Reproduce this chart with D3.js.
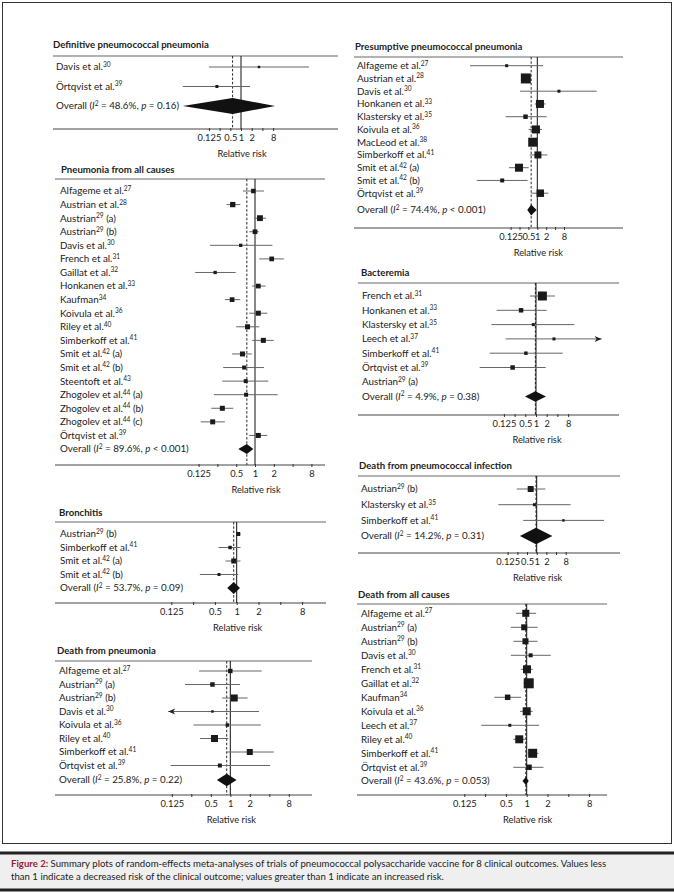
<!DOCTYPE html>
<html>
<head>
<meta charset="utf-8">
<script src="https://cdn.jsdelivr.net/npm/d3@7"></script>
<style>
  body { margin: 0; background: #fff; }
  text { font-family: Lato, "Liberation Sans", sans-serif; fill: #222; }
</style>
</head>
<body>
<svg id="fig"></svg>
<script>
// Dimensions de la figure
const width = 674,
  height = 893;

// Graduations communes
const tickValues = [0.125, 0.25, 0.5, 1, 2, 4, 8];
const tickLabels = ["0.125", "", "0.5", "1", "2", "", "8"];

// Definitive pneumococcal pneumonia
const defLabels = [["Davis et al.", "30", ""], ["Örtqvist et al.", "39", ""]];
const defRR = [3.2, 0.21];
const defLo = [0.125, 0.023];
const defHi = [82, 1.8];
const defW = [6, 9];
const defOverall = [0.58, 0.023, 9.1];
const defHet = ["48.6", "= 0.16"];

// Pneumonia from all causes
const allLabels = [
  ["Alfageme et al.", "27", ""], ["Austrian et al.", "28", ""], ["Austrian", "29", " (a)"],
  ["Austrian", "29", " (b)"], ["Davis et al.", "30", ""], ["French et al.", "31", ""],
  ["Gaillat et al.", "32", ""], ["Honkanen et al.", "33", ""], ["Kaufman", "34", ""],
  ["Koivula et al.", "36", ""], ["Riley et al.", "40", ""], ["Simberkoff et al.", "41", ""],
  ["Smit et al.", "42", " (a)"], ["Smit et al.", "42", " (b)"], ["Steentoft et al.", "43", ""],
  ["Zhogolev et al.", "44", " (a)"], ["Zhogolev et al.", "44", " (b)"], ["Zhogolev et al.", "44", " (c)"],
  ["Örtqvist et al.", "39", ""]
];
const allRR = [0.94, 0.44, 1.2, 1.0, 0.59, 1.85, 0.23, 1.13, 0.43, 1.13, 0.76, 1.36, 0.63, 0.67, 0.71, 0.72, 0.3, 0.21, 1.13];
const allLo = [0.64, 0.35, 0.97, 0.81, 0.19, 1.17, 0.11, 0.9, 0.33, 0.81, 0.5, 0.9, 0.43, 0.31, 0.3, 0.22, 0.2, 0.135, 0.81];
const allHi = [1.39, 0.58, 1.5, 1.15, 1.9, 2.9, 0.49, 1.48, 0.58, 1.57, 1.17, 2.0, 0.89, 1.39, 1.63, 2.3, 0.45, 0.33, 1.57];
const allW = [20, 28, 34, 22, 11, 22, 11, 22, 22, 25, 25, 25, 25, 16, 16, 16, 25, 25, 25];
const allOverall = [0.74, 0.54, 0.94];
const allHet = ["89.6", "< 0.001"];

// Bronchitis
const broLabels = [["Austrian", "29", " (b)"], ["Simberkoff et al.", "41", ""], ["Smit et al.", "42", " (a)"], ["Smit et al.", "42", " (b)"]];
const broRR = [1.05, 0.81, 0.91, 0.57];
const broLo = [0.98, 0.56, 0.7, 0.31];
const broHi = [1.13, 1.13, 1.13, 1.05];
const broW = [16, 12, 25, 9];
const broOverall = [0.91, 0.74, 1.11];
const broHet = ["53.7", "= 0.09"];

// Death from pneumonia
const dpnLabels = [
  ["Alfageme et al.", "27", ""], ["Austrian", "29", " (a)"], ["Austrian", "29", " (b)"],
  ["Davis et al.", "30", ""], ["Koivula et al.", "36", ""], ["Riley et al.", "40", ""],
  ["Simberkoff et al.", "41", ""], ["Örtqvist et al.", "39", ""]
];
const dpnRR = [1.0, 0.53, 1.15, 0.53, 0.9, 0.57, 2.0, 0.69];
const dpnLo = [0.33, 0.2, 0.75, 0.02, 0.27, 0.34, 0.88, 0.12];
const dpnHi = [3.05, 1.41, 1.85, 2.77, 2.95, 0.93, 4.7, 4.1];
const dpnW = [20, 20, 49, 6, 12, 49, 36, 16];
const dpnOverall = [0.88, 0.62, 1.25];
const dpnHet = ["25.8", "= 0.22"];

// Presumptive pneumococcal pneumonia
const preLabels = [
  ["Alfageme et al.", "27", ""], ["Austrian et al.", "28", ""], ["Davis et al.", "30", ""],
  ["Honkanen et al.", "33", ""], ["Klastersky et al.", "35", ""], ["Koivula et al.", "36", ""],
  ["MacLeod et al.", "38", ""], ["Simberkoff et al.", "41", ""], ["Smit et al.", "42", " (a)"],
  ["Smit et al.", "42", " (b)"], ["Örtqvist et al.", "39", ""]
];
const preRR = [0.092, 0.41, 5.4, 1.23, 0.4, 0.9, 0.7, 1.05, 0.24, 0.065, 1.26];
const preLo = [0.0053, 0.35, 0.26, 0.83, 0.085, 0.51, 0.55, 0.56, 0.11, 0.009, 0.63];
const preHi = [1.6, 0.48, 102, 1.9, 2.07, 1.44, 0.9, 2.2, 0.51, 0.47, 2.36];
const preW = [9, 100, 9, 64, 20, 64, 81, 49, 64, 16, 56];
const preOverall = [0.62, 0.46, 0.95];
const preHet = ["74.4", "< 0.001"];

// Bacteremia
const bacLabels = [
  ["French et al.", "31", ""], ["Honkanen et al.", "33", ""], ["Klastersky et al.", "35", ""],
  ["Leech et al.", "37", ""], ["Simberkoff et al.", "41", ""], ["Örtqvist et al.", "39", ""],
  ["Austrian", "29", " (a)"]
];
const bacRR = [1.51, 0.38, 0.84, 3.2, 0.52, 0.22, null];
const bacLo = [0.68, 0.078, 0.056, 0.14, 0.05, 0.026, null];
const bacHi = [3.4, 2.0, 12, 300, 5.66, 1.87, null];
const bacW = [81, 20, 9, 9, 12, 20, null];
const bacOverall = [0.96, 0.49, 1.91];
const bacHet = ["4.9", "= 0.38"];

// Death from pneumococcal infection
const dpiLabels = [["Austrian", "29", " (b)"], ["Klastersky et al.", "35", ""], ["Simberkoff et al.", "41", ""]];
const dpiRR = [0.65, 0.85, 6.8];
const dpiLo = [0.24, 0.064, 0.38];
const dpiHi = [1.86, 11.4, 125];
const dpiW = [36, 9, 6];
const dpiOverall = [0.95, 0.3, 3.07];
const dpiHet = ["14.2", "= 0.31"];

// Death from all causes
const dacLabels = [
  ["Alfageme et al.", "27", ""], ["Austrian", "29", " (a)"], ["Austrian", "29", " (b)"],
  ["Davis et al.", "30", ""], ["French et al.", "31", ""], ["Gaillat et al.", "32", ""],
  ["Kaufman", "34", ""], ["Koivula et al.", "36", ""], ["Leech et al.", "37", ""],
  ["Riley et al.", "40", ""], ["Simberkoff et al.", "41", ""], ["Örtqvist et al.", "39", ""]
];
const dacRR = [0.97, 0.92, 0.96, 1.14, 1.01, 1.07, 0.53, 1.0, 0.57, 0.78, 1.22, 1.08];
const dacLo = [0.7, 0.59, 0.64, 0.59, 0.82, 0.9, 0.34, 0.8, 0.22, 0.64, 1.03, 0.64];
const dacHi = [1.37, 1.44, 1.44, 2.23, 1.22, 1.25, 0.83, 1.22, 1.51, 0.96, 1.48, 1.75];
const dacW = [49, 36, 36, 16, 64, 100, 30, 64, 9, 64, 81, 30];
const dacOverall = [0.97, 0.87, 1.07];
const dacHet = ["43.6", "= 0.053"];

// Légende de la figure
const captionLines = [
  "Summary plots of random-effects meta-analyses of trials of pneumococcal polysaccharide vaccine for 8 clinical outcomes. Values less",
  "than 1 indicate a decreased risk of the clinical outcome; values greater than 1 indicate an increased risk."
];

const svg = d3.select("#fig").attr("width", width).attr("height", height);

// Taille des carrés selon le poids
const boxSize = d3.scaleSqrt().domain([0, 100]).range([0, 10]);

// Mise en page des panneaux
const panels = [
  { title: "Definitive pneumococcal pneumonia", tx: 53, ty: 45, lx0: 53, lx1: 338, topY: 56,
    labX: 56, row0: 67, step: 19.5, ovY: 106, axisY: 129, x1: 241, dbl: 10.7, dh: 8,
    labels: defLabels, rr: defRR, lo: defLo, hi: defHi, w: defW, ov: defOverall, het: defHet },
  { title: "Pneumonia from all causes", tx: 61, ty: 170, lx0: 55, lx1: 325, topY: 179,
    labX: 60, row0: 191, step: 13.58, ovY: 449, axisY: 465, x1: 255, dbl: 18.8, dh: 5,
    labels: allLabels, rr: allRR, lo: allLo, hi: allHi, w: allW, ov: allOverall, het: allHet },
  { title: "Bronchitis", tx: 59, ty: 513, lx0: 55, lx1: 326, topY: 522,
    labX: 60, row0: 534, step: 13.5, ovY: 588, axisY: 603, x1: 236.7, dbl: 21.8, dh: 6,
    labels: broLabels, rr: broRR, lo: broLo, hi: broHi, w: broW, ov: broOverall, het: broHet },
  { title: "Death from pneumonia", tx: 57, ty: 651, lx0: 55, lx1: 312, topY: 661,
    labX: 59, row0: 671, step: 13.5, ovY: 780, axisY: 795, x1: 230.3, dbl: 19.5, dh: 6.3,
    clip: [0.11, 1000],
    labels: dpnLabels, rr: dpnRR, lo: dpnLo, hi: dpnHi, w: dpnW, ov: dpnOverall, het: dpnHet },
  { title: "Presumptive pneumococcal pneumonia", tx: 355, ty: 47, lx0: 354, lx1: 623, topY: 57,
    labX: 357, row0: 65.7, step: 12.75, ovY: 210, axisY: 228, x1: 537.3, dbl: 8.9, dh: 5.5,
    labels: preLabels, rr: preRR, lo: preLo, hi: preHi, w: preW, ov: preOverall, het: preHet },
  { title: "Bacteremia", tx: 361, ty: 273, lx0: 358, lx1: 619, topY: 283,
    labX: 362, row0: 296, step: 14.3, ovY: 396.5, axisY: 415, x1: 536, dbl: 10.7, dh: 5.3,
    clip: [0.0001, 70],
    labels: bacLabels, rr: bacRR, lo: bacLo, hi: bacHi, w: bacW, ov: bacOverall, het: bacHet },
  { title: "Death from pneumococcal infection", tx: 359, ty: 466, lx0: 358, lx1: 620, topY: 476,
    labX: 361, row0: 489, step: 15.7, ovY: 536, axisY: 553, x1: 536.7, dbl: 9.67, dh: 8.3,
    labels: dpiLabels, rr: dpiRR, lo: dpiLo, hi: dpiHi, w: dpiW, ov: dpiOverall, het: dpiHet },
  { title: "Death from all causes", tx: 358, ty: 595, lx0: 357, lx1: 607, topY: 604,
    labX: 361, row0: 613.3, step: 14.0, ovY: 781, axisY: 795, x1: 526.7, dbl: 20.8, dh: 4,
    labels: dacLabels, rr: dacRR, lo: dacLo, hi: dacHi, w: dacW, ov: dacOverall, het: dacHet }
];

// Cadre autour des panneaux
svg.append("rect")
  .attr("x", 2.5).attr("y", 2.5)
  .attr("width", 669).attr("height", 841)
  .attr("fill", "none").attr("stroke", "#333").attr("stroke-width", 1);

function addStudyLabel(g, x, y, lab) {
  const t = g.append("text").attr("x", x).attr("y", y).attr("dy", "0.35em")
    .attr("font-size", "9.8px");
  t.append("tspan").text(lab[0]);
  t.append("tspan").attr("font-size", "6.6px").attr("dy", "-3.5").text(lab[1]);
  if (lab[2]) t.append("tspan").attr("dy", "3.5").text(lab[2]);
}

function addOverallLabel(g, x, y, het) {
  const t = g.append("text").attr("x", x).attr("y", y).attr("dy", "0.35em")
    .attr("font-size", "9.8px");
  t.append("tspan").text("Overall (");
  t.append("tspan").attr("font-style", "italic").text("I");
  t.append("tspan").attr("font-size", "6.6px").attr("dy", "-3.5").text("2");
  t.append("tspan").attr("dy", "3.5").text(" = " + het[0] + "%, ");
  t.append("tspan").attr("font-style", "italic").text("p");
  t.append("tspan").text(" " + het[1] + ")");
}

function drawPanel(p) {
  const g = svg.append("g");
  const x = d3.scaleLog().base(2)
    .domain([0.125, 8])
    .range([p.x1 - 3 * p.dbl, p.x1 + 3 * p.dbl]);
  const clip = p.clip || [1e-6, 1e6];

  // Titre
  g.append("text").attr("x", p.tx).attr("y", p.ty).attr("dy", "0.35em")
    .attr("font-size", "9.6px").attr("font-weight", "bold").text(p.title);

  // Ligne du haut
  g.append("line").attr("x1", p.lx0).attr("x2", p.lx1)
    .attr("y1", p.topY).attr("y2", p.topY)
    .attr("stroke", "#999").attr("stroke-width", 1.6);

  // Ligne de référence (RR = 1) et estimation globale
  g.append("line").attr("x1", x(1)).attr("x2", x(1))
    .attr("y1", p.topY).attr("y2", p.axisY)
    .attr("stroke", "#111").attr("stroke-width", 1);
  g.append("line").attr("x1", x(p.ov[0])).attr("x2", x(p.ov[0]))
    .attr("y1", p.topY).attr("y2", p.axisY)
    .attr("stroke", "#111").attr("stroke-width", 0.9)
    .attr("stroke-dasharray", "2.5,1.8");

  // Études
  p.labels.forEach((lab, i) => {
    const y = p.row0 + i * p.step;
    addStudyLabel(g, p.labX, y, lab);
    if (p.rr[i] == null) return;
    const lo = Math.max(p.lo[i], clip[0]);
    const hi = Math.min(p.hi[i], clip[1]);
    g.append("line").attr("x1", x(lo)).attr("x2", x(hi))
      .attr("y1", y).attr("y2", y)
      .attr("stroke", "#666").attr("stroke-width", 1);
    if (p.lo[i] < clip[0]) {
      const ax = x(clip[0]);
      g.append("path")
        .attr("d", `M${ax},${y}L${ax + 7},${y - 3}L${ax + 5},${y}L${ax + 7},${y + 3}Z`)
        .attr("fill", "#222");
    }
    if (p.hi[i] > clip[1]) {
      const ax = x(clip[1]);
      g.append("path")
        .attr("d", `M${ax},${y}L${ax - 7},${y - 3}L${ax - 5},${y}L${ax - 7},${y + 3}Z`)
        .attr("fill", "#222");
    }
    const s = boxSize(p.w[i]);
    g.append("rect").attr("x", x(p.rr[i]) - s / 2).attr("y", y - s / 2)
      .attr("width", s).attr("height", s).attr("fill", "#1a1a1a");
  });

  // Ligne globale et losange
  addOverallLabel(g, p.labX, p.ovY, p.het);
  const ov = p.ov;
  g.append("path")
    .attr("d", `M${x(ov[1])},${p.ovY}L${x(ov[0])},${p.ovY - p.dh}L${x(ov[2])},${p.ovY}L${x(ov[0])},${p.ovY + p.dh}Z`)
    .attr("fill", "#111");

  // Axe
  g.append("line").attr("x1", p.lx0).attr("x2", p.lx1)
    .attr("y1", p.axisY).attr("y2", p.axisY)
    .attr("stroke", "#444").attr("stroke-width", 1);
  const axis = d3.axisBottom(x)
    .tickValues(tickValues)
    .tickFormat((d, i) => tickLabels[i])
    .tickSizeInner(3).tickSizeOuter(0).tickPadding(3);
  const ag = g.append("g").attr("transform", `translate(0,${p.axisY - 1})`).call(axis);
  ag.select(".domain").remove();
  ag.selectAll(".tick line").attr("stroke", "#333");
  ag.selectAll(".tick text").attr("font-size", "9.3px")
    .attr("font-family", "Lato, 'Liberation Sans', sans-serif").attr("fill", "#222");

  g.append("text").attr("x", x(1) + 1).attr("y", p.axisY + 25).attr("dy", "0.35em")
    .attr("text-anchor", "middle").attr("font-size", "9.3px").text("Relative risk");
}

panels.forEach(drawPanel);

// Bandeau de légende
svg.append("rect").attr("x", 0).attr("y", 853).attr("width", width).attr("height", 37)
  .attr("fill", "#efefef");
[853, 890].forEach(y => {
  svg.append("line").attr("x1", 0).attr("x2", width).attr("y1", y).attr("y2", y)
    .attr("stroke", "#222").attr("stroke-width", 3);
});
const cap1 = svg.append("text").attr("x", 11).attr("y", 864).attr("dy", "0.35em")
  .attr("font-size", "9.6px");
cap1.append("tspan").attr("font-weight", "bold").attr("fill", "#9b1b30").text("Figure 2: ");
cap1.append("tspan").text(captionLines[0]);
svg.append("text").attr("x", 11).attr("y", 877).attr("dy", "0.35em")
  .attr("font-size", "9.6px").text(captionLines[1]);
</script>
</body>
</html>
